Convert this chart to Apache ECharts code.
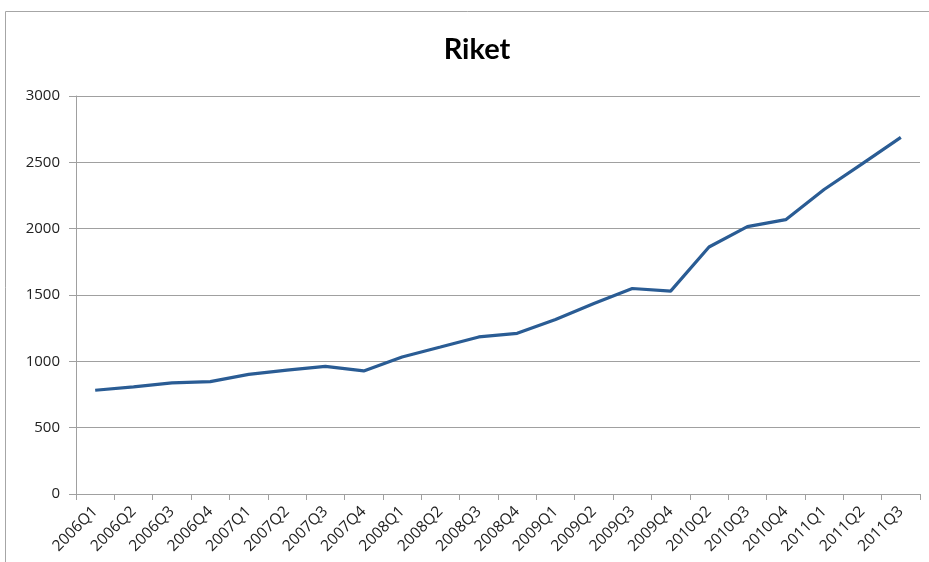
<!DOCTYPE html>
<html><head><meta charset="utf-8">
<script src="https://cdn.jsdelivr.net/npm/echarts@6/dist/echarts.min.js"></script>
<style>html,body{margin:0;padding:0;background:#fff}#c{width:929px;height:562px}</style>
</head><body><div id="c"></div>
<script>
const categories = ['2006Q1','2006Q2','2006Q3','2006Q4','2007Q1','2007Q2','2007Q3','2007Q4','2008Q1','2008Q2','2008Q3','2008Q4','2009Q1','2009Q2','2009Q3','2009Q4','2010Q2','2010Q3','2010Q4','2011Q1','2011Q2','2011Q3'];
const values = [782, 808, 838, 847, 902, 934, 962, 928, 1033, 1108, 1184, 1211, 1316, 1436, 1549, 1529, 1862, 2015, 2068, 2295, 2490, 2688];
const yTicks = [0, 500, 1000, 1500, 2000, 2500, 3000];
const titleText = 'Riket';

const chart = echarts.init(document.getElementById('c'), null, {renderer:'canvas'});
chart.setOption({
  animation:false,
  backgroundColor:'#fff',
  title:{text:titleText,left:472,top:30,textAlign:'center',
    textStyle:{fontFamily:'Lato',fontWeight:'bold',fontSize:29,color:'#000'}},
  graphic:[{type:'rect',shape:{x:5.5,y:11.5,width:1000,height:1000},
    style:{fill:'none',stroke:'#a6a6a6',lineWidth:1},silent:true}],
  grid:{left:76,right:9,top:96,bottom:68,containLabel:false},
  xAxis:{type:'category',data:categories,boundaryGap:true,
    axisLine:{lineStyle:{color:'#a0a0a0',width:1}},
    axisTick:{show:true,length:6,alignWithLabel:false,lineStyle:{color:'#a0a0a0'}},
    axisLabel:{rotate:45,interval:0,margin:15,fontFamily:'Open Sans',fontSize:15.5,color:'#222'}},
  yAxis:{type:'value',min:yTicks[0],max:yTicks[yTicks.length-1],interval:500,
    axisLine:{show:true,lineStyle:{color:'#a0a0a0',width:1}},
    axisTick:{show:true,length:7,lineStyle:{color:'#a0a0a0'}},
    axisLabel:{margin:16,fontFamily:'Open Sans',fontSize:15,color:'#222',formatter:function(v){return String(v);}},
    splitLine:{lineStyle:{color:'#a0a0a0',width:1}}},
  series:[{type:'line',data:values,symbol:'none',
    lineStyle:{color:'#2a5c94',width:3.2}}]
});
</script></body></html>
